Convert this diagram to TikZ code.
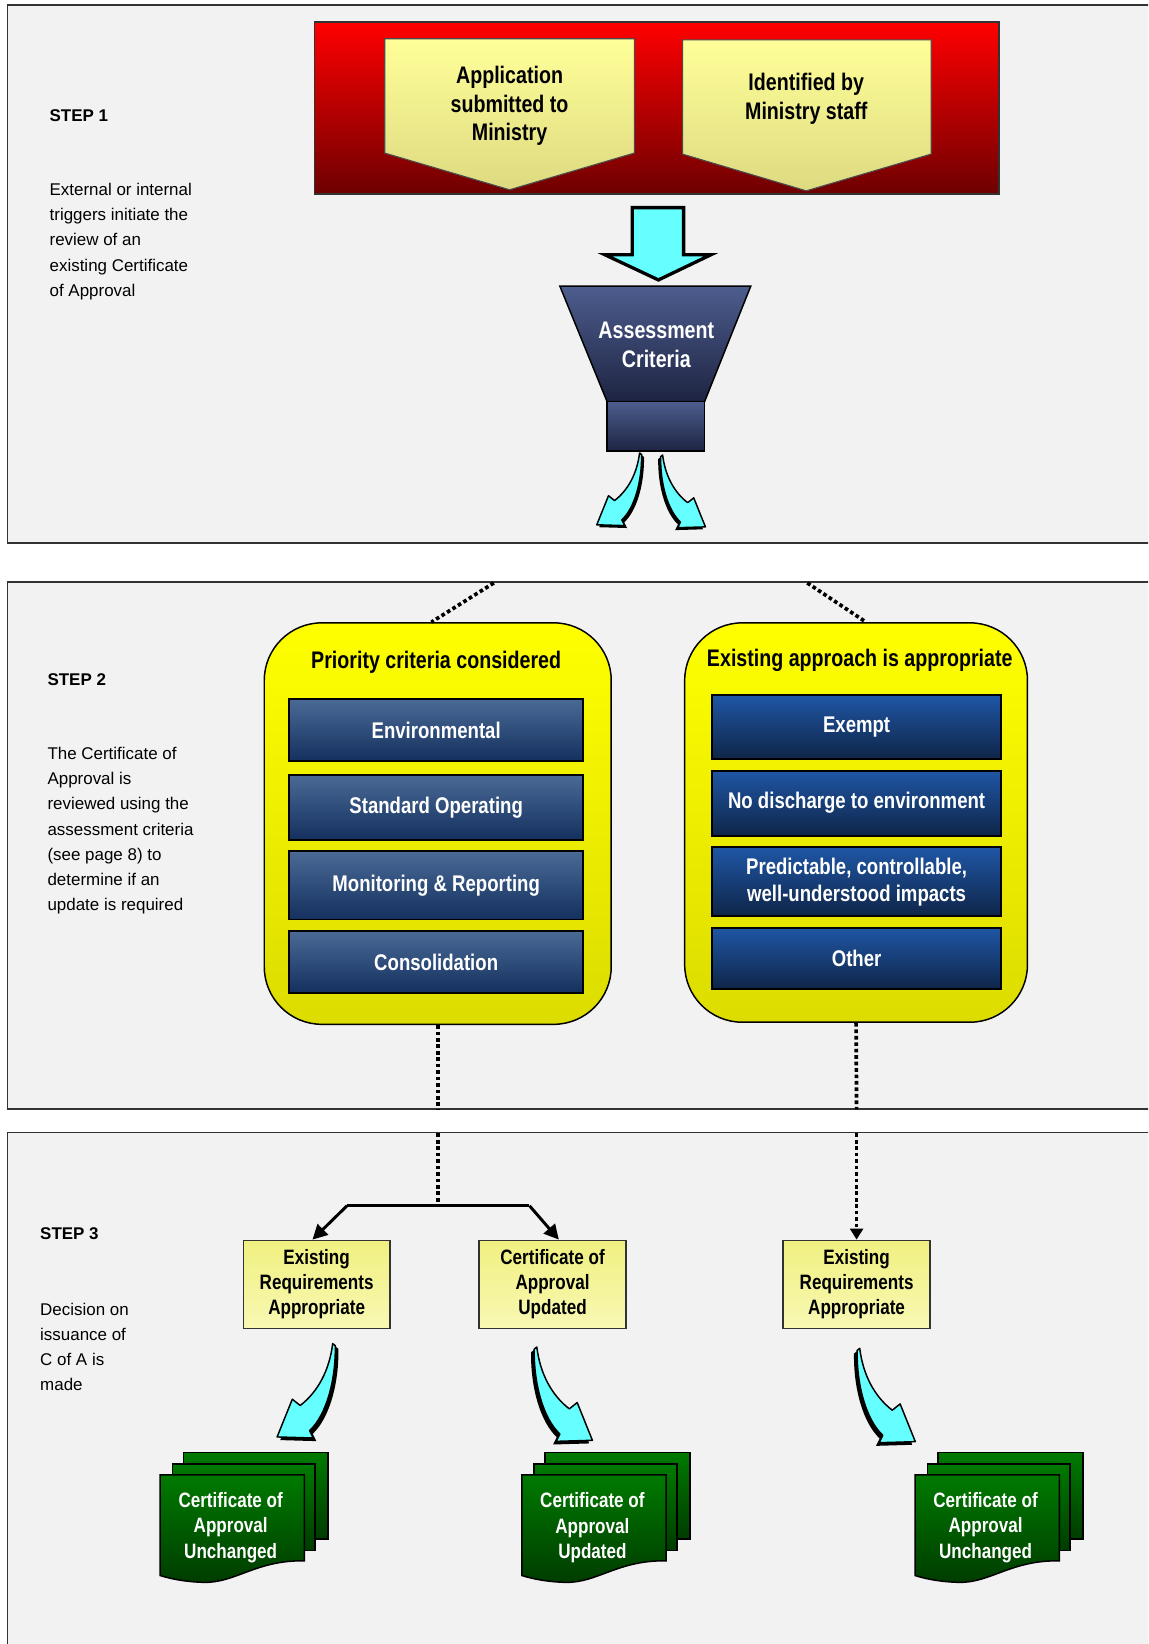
\documentclass[tikz,border=0pt]{standalone}
\usepackage{fontspec}
\setmainfont{Liberation Sans}
\newfontfamily\narrowfont[FakeStretch=0.82]{Liberation Sans}
\usetikzlibrary{calc,arrows.meta}

\definecolor{panelgray}{HTML}{F2F2F2}
\definecolor{redtop}{HTML}{FF0000}
\definecolor{redbot}{HTML}{6E0000}
\definecolor{pentatop}{HTML}{FFFF99}
\definecolor{pentabot}{HTML}{DDDA80}
\definecolor{arrowcyan}{HTML}{66FFFF}
\definecolor{funneltop}{HTML}{4D5D8E}
\definecolor{funnelbot}{HTML}{1E2442}
\definecolor{yelltop}{HTML}{FFFF00}
\definecolor{yellbot}{HTML}{DCDC00}
\definecolor{slatetop}{HTML}{4A6A96}
\definecolor{slatebot}{HTML}{14305E}
\definecolor{royaltop}{HTML}{1F56A5}
\definecolor{royalbot}{HTML}{0F2548}
\definecolor{paletop}{HTML}{F0F080}
\definecolor{palebot}{HTML}{F8F8B4}
\definecolor{greentop}{HTML}{007A00}
\definecolor{greenbot}{HTML}{003C00}

\begin{document}
\begin{tikzpicture}[x=0.02cm,y=-0.02cm,every node/.style={inner sep=0pt},
	panel/.style={draw=black!80,line width=0.9pt,fill=panelgray},
	steptitle/.style={anchor=west,font=\fontsize{9.2}{11}\selectfont\bfseries},
	steptext/.style={anchor=north west,align=left,font=\fontsize{9.2}{13.65}\selectfont},
	boxtext/.style={align=center,font=\narrowfont\bfseries\fontsize{13}{15.5}\selectfont},
	grp/.style={draw=black,line width=0.8pt,rounded corners=1.1cm,top color=yelltop,middle color=yelltop,bottom color=yellbot},
	slate/.style={draw=black,line width=1pt,top color=slatetop,bottom color=slatebot,minimum width=5.6cm,text=white,align=center,font=\narrowfont\bfseries\fontsize{12.3}{14.7}\selectfont},
	royal/.style={slate,top color=royaltop,bottom color=royalbot,minimum width=5.52cm},
	pale/.style={draw=black!80,line width=0.8pt,top color=paletop,bottom color=palebot,minimum width=2.8cm,minimum height=1.68cm,align=center,font=\narrowfont\bfseries\fontsize{11.3}{13.6}\selectfont},
	doc/.style={draw=black,line width=0.8pt,top color=greentop,bottom color=greenbot},
	doctext/.style={text=white,align=center,font=\narrowfont\bfseries\fontsize{11.3}{13.6}\selectfont},
	dotline/.style={line width=2pt,dash pattern=on 2pt off 1.5pt},
	fork/.style={line width=1.6pt},
	docstack/.pic={
		\draw[doc] (22,-21.3) rectangle (160.2,61);
		\draw[doc] (11.7,-10.3) rectangle (147.8,72);
		\draw[doc] (0,0) -- (137.6,0) -- (137.6,82) .. controls (92,81) and (72,103) .. (42,102.5) .. controls (22,102) and (8,98.5) .. (0,96) -- cycle;
	},
	curvy/.pic={
		\fill[black,shift={(3,3)}] (0,0) .. controls (-3,25) and (-14,46) .. (-31,59) -- (-38.5,53) -- (-53,89) -- (-18.5,90) -- (-22,83) .. controls (-6,68) and (3,35) .. (2.5,2) -- cycle;
		\filldraw[fill=arrowcyan,draw=black,line width=0.8pt,line join=round] (0,0) .. controls (-3,25) and (-14,46) .. (-31,59) -- (-38.5,53) -- (-53,89) -- (-18.5,90) -- (-22,83) .. controls (-6,68) and (3,35) .. (2.5,2) -- cycle;
	}]
	\useasboundingbox (0,0) rectangle (1095,1568);
	\clip (0,0) rectangle (1095,1568);
	\draw[panel] (7,5) rectangle (1110,518);
	\draw[panel] (7,555) rectangle (1110,1058);
	\draw[panel] (7,1080) rectangle (1110,1590);

	\node[steptitle] (step1) at (47,110) {STEP 1};
	\node[steptext] (step1txt) at (47,174.5) {External or internal\\triggers initiate the\\review of an\\existing Certificate\\of Approval};
	\node[steptitle] (step2) at (45,648) {STEP 2};
	\node[steptext] (step2txt) at (45,712.5) {The Certificate of\\Approval is\\reviewed using the\\assessment criteria\\(see page 8) to\\determine if an\\update is required};
	\node[steptitle] (step3) at (38,1177) {STEP 3};
	\node[steptext] (step3txt) at (38,1242.5) {Decision on\\issuance of\\C of A is\\made};

	\draw[draw=black!80,line width=0.8pt,top color=redtop,bottom color=redbot] (300,21) rectangle (953,185);
	\draw[draw=black!70,line width=0.6pt,top color=pentatop,bottom color=pentabot] (367,37) -- (605,37) -- (605,146) -- (486,181) -- (367,146) -- cycle;
	\draw[draw=black!70,line width=0.6pt,top color=pentatop,bottom color=pentabot] (651,38) -- (888,38) -- (888,147) -- (769,182) -- (651,147) -- cycle;
	\node[boxtext] (app) at (486,101) {Application\\submitted to\\Ministry};
	\node[boxtext] (ident) at (769,94) {Identified by\\Ministry staff};

	\draw[fill=arrowcyan,draw=black,line width=1.8pt] (603,198) -- (652,198) -- (652,243) -- (678,243) -- (628,267) -- (577,243) -- (603,243) -- cycle;
	\draw[draw=black,line width=0.8pt,top color=funneltop,bottom color=funnelbot] (534,273) -- (716,273) -- (672,383) -- (579,383) -- cycle;
	\draw[draw=black,line width=0.8pt,top color=funneltop,bottom color=funnelbot] (579,383) rectangle (672,430);
	\node[boxtext,text=white] (assess) at (626,329) {Assessment\\Criteria};
	\pic[scale=0.77] at (610,432) {curvy};
	\pic[xscale=-0.77,yscale=0.77] at (632,434) {curvy};

	\node[grp,minimum width=6.62cm,minimum height=7.66cm] (prio) at (417.5,785.5) {};
	\node[grp,minimum width=6.54cm,minimum height=7.62cm] (exist) at (816.5,784.5) {};
	\node[boxtext] (priot) at (416,632) {Priority criteria considered};
	\node[boxtext] (existt) at (820,630) {Existing approach is appropriate};
	\node[slate,minimum height=1.18cm] (env) at (416,696.5) {Environmental};
	\node[slate,minimum height=1.24cm] (std) at (416,770) {Standard Operating};
	\node[slate,minimum height=1.3cm] (mon) at (416,844.5) {Monitoring \& Reporting};
	\node[slate,minimum height=1.18cm] (cons) at (416,917.5) {Consolidation};
	\node[royal,minimum height=1.22cm] (exempt) at (817,693.5) {Exempt};
	\node[royal,minimum height=1.24cm] (nodis) at (817,766) {No discharge to environment};
	\node[royal,minimum height=1.32cm] (pred) at (817,841) {Predictable, controllable,\\well-understood impacts};
	\node[royal,minimum height=1.16cm] (other) at (817,914) {Other};

	\node[pale] (reqA) at (302,1225) {Existing\\Requirements\\Appropriate};
	\node[pale] (certB) at (527,1225) {Certificate of\\Approval\\Updated};
	\node[pale] (reqC) at (817,1225) {Existing\\Requirements\\Appropriate};

	\coordinate (gapL) at (471,556);
	\coordinate (gapR) at (770,556);
	\coordinate (p2L) at (417.5,1058);
	\coordinate (p3L) at (417.5,1081);
	\coordinate (p2R) at (817,1058);
	\coordinate (p3R) at (817,1081);
	\coordinate (forkM) at (417.5,1150);
	\coordinate (forkL) at (331,1150);
	\coordinate (forkR) at (505,1150);
	\draw[dotline] (gapL) -- ([xshift=-0.12cm]prio.north);
	\draw[dotline] (gapR) -- ([xshift=0.19cm]exist.north);
	\draw[dotline] (prio.south) -- (p2L);
	\draw[dotline] (p3L) -- (forkM);
	\draw[dotline] (exist.south) -- (p2R);
	\draw[dotline,-{Triangle[length=6pt,width=7pt]}] (p3R) -- (reqC.north);
	\draw[fork] (forkL) -- (forkR);
	\draw[fork,-{Triangle[length=8pt,width=8pt]}] (forkL) -- ([xshift=-0.08cm]reqA.north);
	\draw[fork,-{Triangle[length=8pt,width=8pt]}] (forkR) -- ([xshift=0.12cm]certB.north);

	\pic at (317.3,1281.5) {curvy};
	\pic[xscale=-1] at (512,1284.7) {curvy};
	\pic[xscale=-1] at (820,1286) {curvy};

	\pic at (152.8,1406.7) {docstack};
	\pic at (497.8,1406.7) {docstack};
	\pic at (872.8,1406.7) {docstack};
	\node[doctext] (docA) at (220,1457) {Certificate of\\Approval\\Unchanged};
	\node[doctext] (docB) at (565,1457) {Certificate of\\Approval\\Updated};
	\node[doctext] (docC) at (940,1457) {Certificate of\\Approval\\Unchanged};
\end{tikzpicture}
\end{document}
